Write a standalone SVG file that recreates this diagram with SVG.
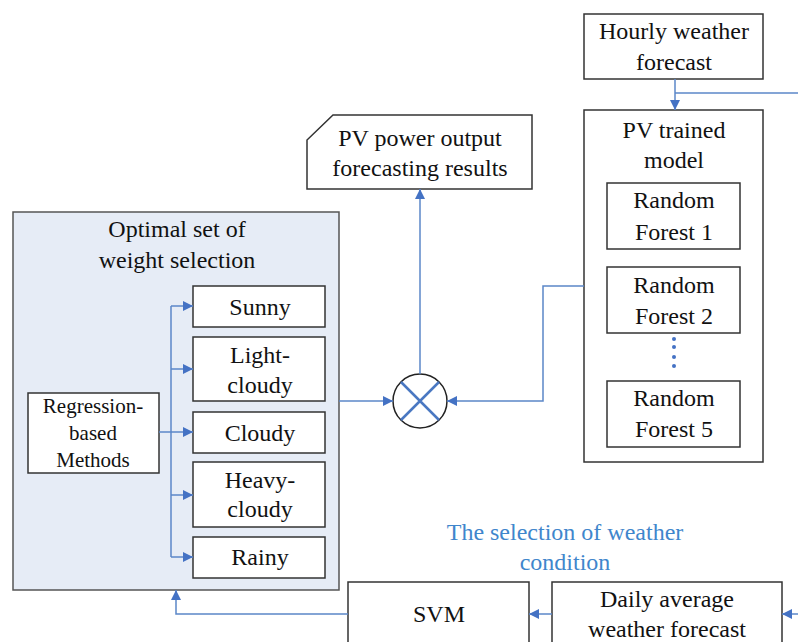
<svg xmlns="http://www.w3.org/2000/svg" width="798" height="642" viewBox="0 0 798 642">
  <style>
    .box { fill: #ffffff; stroke: #333333; stroke-width: 1.5; }
    .panel { fill: #e6ecf6; stroke: #555555; stroke-width: 1.5; }
    text { font-family: 'Liberation Serif', 'DejaVu Serif', serif; }
    .t { font-size: 24px; fill: #111111; text-anchor: middle; }
    .ts { font-size: 21px; }
    .blue { fill: #3f86cc; }
    .link { fill: none; stroke: #5b87c8; stroke-width: 1.5; }
  </style>
  <defs>
    <marker id="arr" viewBox="0 0 10 10" refX="10" refY="5" markerWidth="10" markerHeight="10" markerUnits="userSpaceOnUse" orient="auto">
      <path d="M0,0 L10,5 L0,10 z" fill="#4472c4"/>
    </marker>
  </defs>

  <!-- weight selection panel -->
  <g id="weight-panel">
    <rect class="panel" x="13" y="212" width="326" height="378"/>
    <text class="t" x="177" y="237" font-family="Liberation Serif">Optimal set of</text>
    <text class="t" x="177" y="268" font-family="Liberation Serif">weight selection</text>
  </g>

  <g id="regression">
    <rect class="box" x="28" y="393" width="131" height="80"/>
    <text class="t ts" x="93" y="413">Regression-</text>
    <text class="t ts" x="93" y="440">based</text>
    <text class="t ts" x="93" y="467">Methods</text>
  </g>

  <g id="sunny">
    <rect class="box" x="193" y="286" width="132" height="41"/>
    <text class="t" x="260" y="315">Sunny</text>
  </g>
  <g id="light-cloudy">
    <rect class="box" x="193" y="337" width="132" height="64"/>
    <text class="t" x="260" y="363">Light-</text>
    <text class="t" x="260" y="393">cloudy</text>
  </g>
  <g id="cloudy">
    <rect class="box" x="193" y="412" width="132" height="41"/>
    <text class="t" x="260" y="441">Cloudy</text>
  </g>
  <g id="heavy-cloudy">
    <rect class="box" x="193" y="462" width="132" height="65"/>
    <text class="t" x="260" y="488">Heavy-</text>
    <text class="t" x="260" y="517">cloudy</text>
  </g>
  <g id="rainy">
    <rect class="box" x="193" y="537" width="132" height="41"/>
    <text class="t" x="260" y="565">Rainy</text>
  </g>

  <g id="pv-output">
    <polygon class="box" points="333,115 532,115 532,189 307,189 307,140"/>
    <text class="t" x="420" y="146">PV power output</text>
    <text class="t" x="420" y="176">forecasting results</text>
  </g>

  <g id="hourly">
    <rect class="box" x="584" y="14" width="179" height="65"/>
    <text class="t" x="674" y="39">Hourly weather</text>
    <text class="t" x="674" y="70">forecast</text>
  </g>

  <g id="pv-model">
    <rect class="box" x="584" y="110" width="179" height="352"/>
    <text class="t" x="674" y="138">PV trained</text>
    <text class="t" x="674" y="168">model</text>
  </g>
  <g id="rf1">
    <rect class="box" x="607" y="183" width="133" height="66"/>
    <text class="t" x="674" y="208">Random</text>
    <text class="t" x="674" y="240">Forest 1</text>
  </g>
  <g id="rf2">
    <rect class="box" x="607" y="267" width="133" height="66"/>
    <text class="t" x="674" y="293">Random</text>
    <text class="t" x="674" y="324">Forest 2</text>
  </g>
  <g id="rf-dots" fill="#4472c4">
    <circle cx="674" cy="339" r="2"/>
    <circle cx="674" cy="347" r="2"/>
    <circle cx="674" cy="357" r="2"/>
    <circle cx="674" cy="366" r="2"/>
  </g>
  <g id="rf5">
    <rect class="box" x="607" y="381" width="133" height="66"/>
    <text class="t" x="674" y="406">Random</text>
    <text class="t" x="674" y="437">Forest 5</text>
  </g>

  <g id="multiplier">
    <circle cx="420" cy="401" r="27" fill="#ffffff" stroke="#222222" stroke-width="1.5"/>
    <path d="M401,382 L439,420 M439,382 L401,420" stroke="#4a78c2" stroke-width="2.5" fill="none"/>
  </g>

  <g id="svm">
    <rect class="box" x="348" y="582" width="181" height="70"/>
    <text class="t" x="439" y="622">SVM</text>
  </g>
  <g id="daily">
    <rect class="box" x="552" y="582" width="230" height="70"/>
    <text class="t" x="667" y="607">Daily average</text>
    <text class="t" x="667" y="637">weather forecast</text>
  </g>

  <g id="label-selection">
    <text class="t blue" x="565" y="540">The selection of weather</text>
    <text class="t blue" x="565" y="570">condition</text>
  </g>

  <g id="connectors">
    <!-- regression fan-out -->
    <path class="link" d="M171,306 L171,557"/>
    <path class="link" d="M159,432 L193,432" marker-end="url(#arr)"/>
    <path class="link" d="M171,306 L193,306" marker-end="url(#arr)"/>
    <path class="link" d="M171,369 L193,369" marker-end="url(#arr)"/>
    <path class="link" d="M171,495 L193,495" marker-end="url(#arr)"/>
    <path class="link" d="M171,557 L193,557" marker-end="url(#arr)"/>
    <!-- weights into multiplier -->
    <path class="link" d="M339,401 L393,401" marker-end="url(#arr)"/>
    <!-- model into multiplier -->
    <path class="link" d="M584,286 L543,286 L543,401 L447,401" marker-end="url(#arr)"/>
    <!-- multiplier to results -->
    <path class="link" d="M420,374 L420,189" marker-end="url(#arr)"/>
    <!-- hourly forecast into model -->
    <path class="link" d="M675,79 L675,110" marker-end="url(#arr)"/>
    <path class="link" d="M675,93 L798,93"/>
    <!-- daily forecast chain -->
    <path class="link" d="M798,614 L782,614" marker-end="url(#arr)"/>
    <path class="link" d="M552,614 L529,614" marker-end="url(#arr)"/>
    <path class="link" d="M348,614 L176,614 L176,590" marker-end="url(#arr)"/>
  </g>
</svg>
